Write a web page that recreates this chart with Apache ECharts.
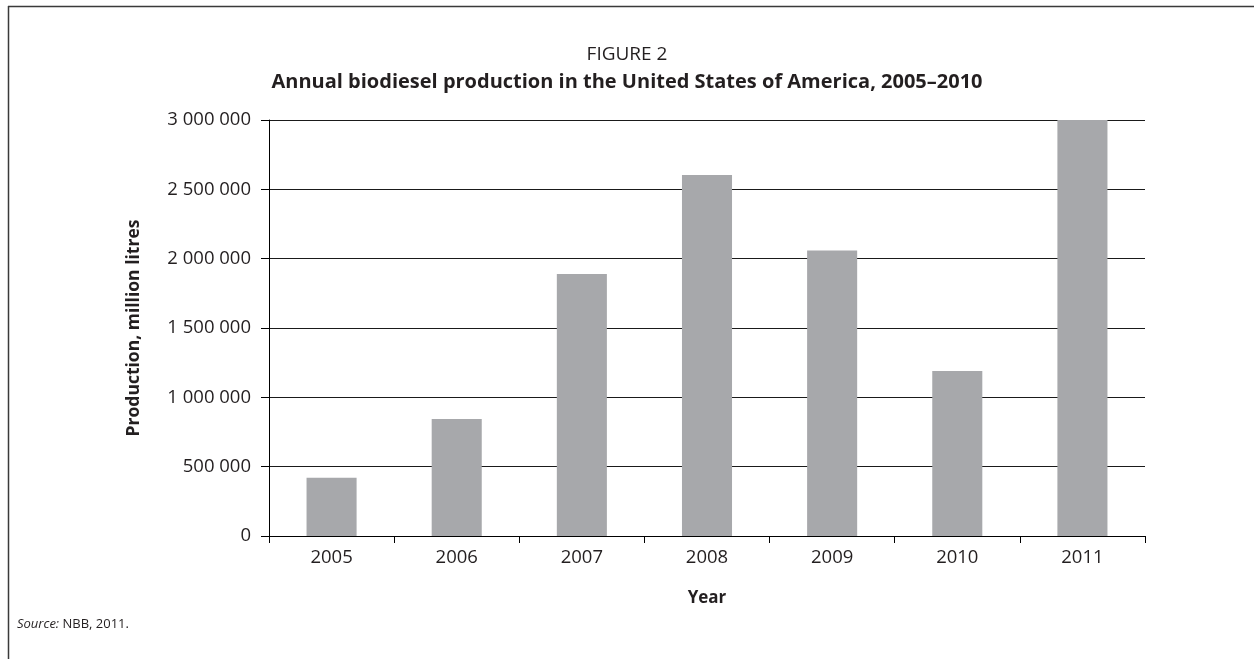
<!DOCTYPE html>
<html>
<head>
<meta charset="utf-8">
<script src="https://cdn.jsdelivr.net/npm/echarts@6/dist/echarts.min.js"></script>
<style>
html,body{margin:0;padding:0;background:#fff;}
#chart{width:1254px;height:659px;}
</style>
</head>
<body>
<div id="chart"></div>
<script>
var categories = ['2005', '2006', '2007', '2008', '2009', '2010', '2011'];
var production = [420000, 844000, 1889000, 2603000, 2058000, 1190000, 3000000];
var yTicks = [0, 500000, 1000000, 1500000, 2000000, 2500000, 3000000];

var FONT = '"Open Sans", "Noto Sans", sans-serif';
var INK = '#231f20';

function fmt(v) {
  return String(v).replace(/\B(?=(\d{3})+(?!\d))/g, ' ');
}

var chart = echarts.init(document.getElementById('chart'), null, {renderer: 'canvas'});
chart.setOption({
  animation: false,
  backgroundColor: '#ffffff',
  title: [
    {
      text: 'FIGURE 2',
      left: 'center',
      top: 40,
      textStyle: {fontFamily: FONT, fontSize: 19, fontWeight: 'normal', color: INK}
    },
    {
      text: 'Annual biodiesel production in the United States of America, 2005\u20132010',
      left: 'center',
      top: 67,
      textStyle: {fontFamily: FONT, fontSize: 20, fontWeight: 'bold', color: INK}
    }
  ],
  graphic: [
    {type: 'line', shape: {x1: 8, y1: 6.5, x2: 1254, y2: 6.5}, style: {stroke: '#3a3a3a', lineWidth: 1.5}},
    {type: 'line', shape: {x1: 8.5, y1: 6, x2: 8.5, y2: 659}, style: {stroke: '#3a3a3a', lineWidth: 1.5}},
    {
      type: 'text', left: 17, top: 618,
      style: {
        text: '{i|Source:} NBB, 2011.',
        rich: {i: {fontStyle: 'italic', fontFamily: FONT, fontSize: 13, fill: INK}},
        fontFamily: FONT, fontSize: 13, fill: INK
      }
    }
  ],
  grid: {left: 269, right: 109, top: 120, bottom: 123, containLabel: false},
  xAxis: {
    type: 'category',
    data: categories,
    boundaryGap: true,
    name: 'Year',
    nameLocation: 'middle',
    nameGap: 54,
    nameTextStyle: {fontFamily: FONT, fontSize: 17, fontWeight: 'bold', color: INK},
    axisLine: {show: true, lineStyle: {color: '#000', width: 1}},
    axisTick: {show: true, length: 7, alignWithLabel: false, lineStyle: {color: '#000'}},
    axisLabel: {fontFamily: FONT, fontSize: 18.5, color: INK, margin: 12},
    splitLine: {show: false}
  },
  yAxis: {
    type: 'value',
    min: 0,
    max: 3000000,
    interval: 500000,
    name: 'Production, million litres',
    nameLocation: 'middle',
    nameGap: 126,
    nameRotate: 90,
    nameTextStyle: {fontFamily: FONT, fontSize: 17.5, fontWeight: 'bold', color: INK},
    axisLine: {show: true, lineStyle: {color: '#000', width: 1}},
    axisTick: {show: true, length: 8, lineStyle: {color: '#000'}},
    axisLabel: {
      fontFamily: FONT, fontSize: 18.5, color: INK, margin: 18,
      formatter: function (v) { return yTicks.indexOf(v) >= 0 ? fmt(v) : ''; }
    },
    splitLine: {show: true, lineStyle: {color: '#1a1a1a', width: 1}}
  },
  series: [{
    type: 'bar',
    data: production,
    barWidth: '40%',
    itemStyle: {color: '#a7a8ab'},
    z: 3
  }]
});
</script>
</body>
</html>
